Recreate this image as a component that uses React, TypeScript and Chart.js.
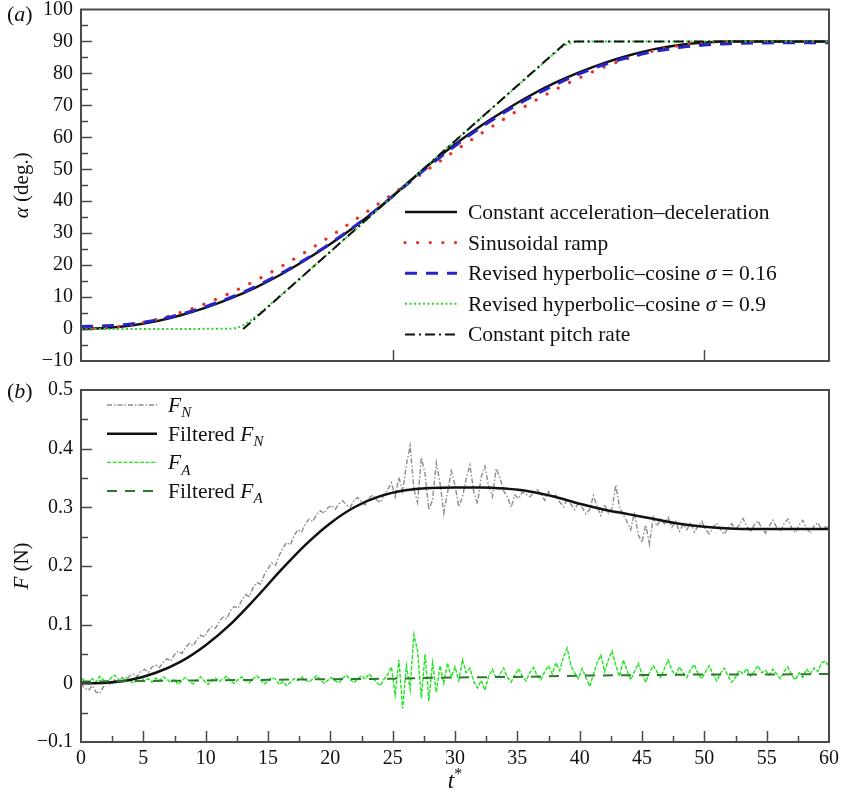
import React, { useEffect, useRef } from "react";
import { Chart, registerables } from "chart.js";

Chart.register(...registerables);

const SERIF = '"Liberation Serif", "Times New Roman", Times, serif';
const INK = "#111111";
const FRAME = "#4a4a4a";

// ---------------- data: panel (a) ----------------
const tEven = [0, 2, 4, 6, 8, 10, 12, 14, 16, 18, 20, 22, 24, 26, 28, 30, 32, 34, 36, 38, 40, 42, 44, 46, 48, 50, 52, 54, 56, 58, 60];
const constAccelDecel = [0, 0.3, 1.1, 2.4, 4.3, 6.7, 9.6, 13.0, 17.0, 21.6, 26.6, 32.2, 38.3, 45.0, 51.7, 57.8, 63.4, 68.4, 73.0, 77.0, 80.4, 83.3, 85.7, 87.6, 88.9, 89.7, 90, 90, 90, 90, 90];
const sinusoidalRamp = [0, 0.33, 1.31, 2.92, 5.15, 7.97, 11.32, 15.16, 19.44, 24.09, 29.04, 34.23, 39.58, 45.0, 50.42, 55.77, 60.96, 65.91, 70.56, 74.84, 78.68, 82.03, 84.85, 87.08, 88.69, 89.67, 90, 90, 90, 90, 90];
const hypCos016 = [0.8, 1.0, 1.6, 2.8, 4.6, 7.0, 9.9, 13.3, 17.3, 21.8, 26.8, 32.3, 38.3, 44.8, 51.3, 57.3, 62.9, 67.9, 72.4, 76.4, 79.9, 82.8, 85.1, 86.9, 88.1, 88.9, 89.3, 89.5, 89.6, 89.6, 89.6];
const hypCos09T = [0, 12, 12.5, 13, 13.5, 14, 20, 26, 32, 38, 38.5, 39, 39.5, 40, 60];
const hypCos09 = [0, 0.1, 0.4, 1.2, 2.4, 3.9, 24.2, 45.0, 65.8, 86.3, 88.0, 89.1, 89.7, 90, 90];
const pitchRateT = [13, 39, 60];
const pitchRate = [0, 90, 90];

const alphaLegend = [
  "Constant acceleration–deceleration",
  "Sinusoidal ramp",
  "Revised hyperbolic–cosine *σ* = 0.16",
  "Revised hyperbolic–cosine *σ* = 0.9",
  "Constant pitch rate",
];

// ---------------- data: panel (b) ----------------
const rawStep = 0.3; // sampling interval of the raw force records (t* units)
const fNRaw = [
  0.000, -0.008, -0.012, -0.004, -0.015, -0.017, -0.006, 0.004, -0.003, 0.006,
  0.001, 0.010, 0.004, 0.013, 0.016, 0.011, 0.020, 0.024, 0.019, 0.028,
  0.031, 0.027, 0.036, 0.042, 0.038, 0.049, 0.055, 0.051, 0.062, 0.068,
  0.064, 0.075, 0.082, 0.079, 0.090, 0.097, 0.094, 0.106, 0.113, 0.110,
  0.124, 0.131, 0.128, 0.142, 0.151, 0.148, 0.163, 0.172, 0.169, 0.185,
  0.196, 0.205, 0.201, 0.218, 0.231, 0.240, 0.236, 0.252, 0.262, 0.258,
  0.272, 0.280, 0.276, 0.288, 0.294, 0.290, 0.299, 0.303, 0.297, 0.306,
  0.311, 0.304, 0.300, 0.312, 0.317, 0.309, 0.304, 0.315, 0.321, 0.313,
  0.308, 0.322, 0.330, 0.342, 0.318, 0.351, 0.327, 0.372, 0.405, 0.331,
  0.308, 0.385, 0.357, 0.296, 0.312, 0.376, 0.341, 0.290, 0.325, 0.362,
  0.338, 0.301, 0.318, 0.349, 0.372, 0.327, 0.306, 0.352, 0.370, 0.336,
  0.318, 0.366, 0.351, 0.328, 0.318, 0.300, 0.321, 0.315, 0.326, 0.322,
  0.318, 0.324, 0.330, 0.322, 0.312, 0.327, 0.316, 0.321, 0.309, 0.301,
  0.314, 0.305, 0.296, 0.308, 0.300, 0.289, 0.296, 0.320, 0.302, 0.286,
  0.305, 0.290, 0.298, 0.338, 0.300, 0.287, 0.275, 0.262, 0.292, 0.253,
  0.240, 0.270, 0.237, 0.283, 0.268, 0.280, 0.272, 0.283, 0.266, 0.276,
  0.259, 0.271, 0.262, 0.274, 0.258, 0.268, 0.276, 0.262, 0.255, 0.266,
  0.273, 0.262, 0.254, 0.265, 0.272, 0.262, 0.270, 0.281, 0.268, 0.258,
  0.270, 0.277, 0.265, 0.256, 0.268, 0.278, 0.266, 0.259, 0.272, 0.280,
  0.265, 0.257, 0.270, 0.278, 0.264, 0.256, 0.268, 0.274, 0.262, 0.267,
  0.265,
];
const fARaw = [
  0.010, 0.004, -0.003, 0.008, 0.002, 0.012, 0.006, 0.001, 0.009, 0.014,
  0.007, 0.003, 0.010, 0.005, 0.000, 0.006, 0.011, 0.004, 0.008, 0.002,
  0.009, 0.005, 0.011, 0.007, 0.001, 0.006, -0.002, 0.005, 0.010, 0.003,
  -0.001, 0.006, 0.011, 0.004, -0.002, 0.005, 0.009, 0.003, 0.008, 0.012,
  0.004, 0.000, 0.007, 0.011, 0.005, 0.001, 0.008, 0.013, 0.006, -0.001,
  0.004, 0.010, 0.007, -0.002, 0.003, -0.004, 0.002, 0.008, 0.005, 0.011,
  0.006, 0.002, 0.008, 0.013, 0.006, 0.000, 0.005, 0.010, 0.004, 0.001,
  0.009, 0.014, 0.006, 0.001, 0.008, 0.013, 0.007, 0.016, 0.009, 0.002,
  -0.004, 0.007, 0.015, 0.028, -0.020, 0.040, -0.043, 0.030, -0.010, 0.083,
  0.055, -0.025, 0.050, -0.030, 0.035, -0.015, 0.030, 0.000, 0.035, 0.010,
  0.028, 0.005, 0.040, 0.018, 0.026, 0.003, -0.008, 0.005, -0.012, 0.012,
  0.024, 0.008, 0.015, 0.026, 0.010, 0.002, 0.014, 0.025, 0.012, 0.004,
  0.018, 0.027, 0.013, 0.006, 0.020, 0.030, 0.016, 0.035, 0.022, 0.045,
  0.060, 0.030, 0.018, 0.008, 0.025, 0.010, -0.005, 0.015, 0.035, 0.048,
  0.020, 0.040, 0.055, 0.030, 0.012, 0.040, 0.022, 0.006, 0.020, 0.034,
  0.015, 0.002, 0.018, 0.030, 0.020, 0.010, 0.025, 0.040, 0.022, 0.014,
  0.028, 0.018, 0.010, 0.024, 0.032, 0.016, 0.008, 0.020, 0.030, 0.015,
  0.004, 0.017, 0.026, 0.012, 0.002, 0.010, 0.022, 0.016, 0.025, 0.012,
  0.020, 0.030, 0.018, 0.022, 0.014, 0.024, 0.016, 0.008, 0.020, 0.028,
  0.014, 0.006, 0.018, 0.010, 0.024, 0.016, 0.026, 0.020, 0.035, 0.038,
  0.028,
];
const fNFiltered = [0.000, 0.001, 0.006, 0.018, 0.037, 0.065, 0.101, 0.145, 0.192, 0.236, 0.273, 0.301, 0.319, 0.329, 0.333, 0.334, 0.334, 0.332, 0.327, 0.318, 0.306, 0.296, 0.288, 0.280, 0.272, 0.267, 0.264, 0.263, 0.263, 0.263, 0.263];
const tFive = [0, 5, 10, 15, 20, 25, 30, 35, 40, 45, 50, 55, 60];
const fAFiltered = [0.003, 0.004, 0.005, 0.006, 0.007, 0.008, 0.010, 0.011, 0.013, 0.014, 0.015, 0.015, 0.016];

const forceLegend = ["*F*_N_", "Filtered *F*_N_", "*F*_A_", "Filtered *F*_A_"];

// ---------------- tick positions ----------------
const alphaMajor = [0, 10, 20, 30, 40, 50, 60, 70, 80, 90];
const alphaMinor = [-5, 5, 15, 25, 35, 45, 55, 65, 75, 85, 95];
const topXMajor = [25, 50];
const forceMajor = [0, 0.1, 0.2, 0.3, 0.4];
const forceMinor = [-0.05, 0.05, 0.15, 0.25, 0.35, 0.45];
const tMajor = [5, 10, 15, 20, 25, 30, 35, 40, 45, 50, 55];
const tMinor = [2.5, 7.5, 12.5, 17.5, 22.5, 27.5, 32.5, 37.5, 42.5, 47.5, 52.5, 57.5];

// ---------------- rich text helpers ----------------
type Seg = { text: string; style: "n" | "i" | "sub" | "sup" };
function parseRich(s: string): Seg[] {
  const out: Seg[] = [];
  const re = /(\^[^^]+\^|\*[^*]+\*|_[^_]+_)/g;
  let last = 0;
  let m: RegExpExecArray | null;
  while ((m = re.exec(s))) {
    if (m.index > last) out.push({ text: s.slice(last, m.index), style: "n" });
    const tok = m[0];
    const inner = tok.slice(1, -1);
    out.push({ text: inner, style: tok[0] === "^" ? "sup" : tok[0] === "*" ? "i" : "sub" });
    last = m.index + tok.length;
  }
  if (last < s.length) out.push({ text: s.slice(last), style: "n" });
  return out;
}
function segFont(st: string, size: number) {
  const small = Math.round(size * 0.7);
  if (st === "i") return `italic ${size}px ${SERIF}`;
  if (st === "sub") return `italic ${small}px ${SERIF}`;
  if (st === "sup") return `${small}px ${SERIF}`;
  return `${size}px ${SERIF}`;
}
function drawRich(ctx: CanvasRenderingContext2D, s: string, x: number, y: number, size: number, align: "left" | "center") {
  const segs = parseRich(s);
  let w = 0;
  const ws: number[] = [];
  for (const sg of segs) {
    ctx.font = segFont(sg.style, size);
    const mw = ctx.measureText(sg.text).width;
    ws.push(mw);
    w += mw;
  }
  let cx = align === "center" ? x - w / 2 : x;
  ctx.textBaseline = "alphabetic";
  ctx.textAlign = "left";
  segs.forEach((sg, i) => {
    ctx.font = segFont(sg.style, size);
    const dy = sg.style === "sub" ? size * 0.25 : sg.style === "sup" ? -size * 0.4 : 0;
    ctx.fillText(sg.text, cx, y + dy);
    cx += ws[i];
  });
}

type Decor = {
  id: string;
  panelLabel: string;
  panelBaseline: number;
  yTitle: string;
  xTitle?: string;
  xTitleBaseline?: number;
  xMajor: number[];
  xMinor: number[];
  yMajor: number[];
  yMinor: number[];
  legendLabels: string[];
  legend: { lineX0: number; lineX1: number; textX: number; y0: number; dy: number };
};

function decorPlugin(cfg: Decor) {
  return {
    id: "decor_" + cfg.id,
    afterDraw(chart: any) {
      const ctx: CanvasRenderingContext2D = chart.ctx;
      const a = chart.chartArea;
      const xs = chart.scales.x;
      const ys = chart.scales.y;
      ctx.save();
      // inward ticks
      ctx.strokeStyle = FRAME;
      ctx.lineWidth = 1.5;
      ctx.setLineDash([]);
      const hTick = (v: number, len: number) => {
        const py = Math.round(ys.getPixelForValue(v)) + 0.5;
        ctx.beginPath();
        ctx.moveTo(a.left, py);
        ctx.lineTo(a.left + len, py);
        ctx.stroke();
      };
      const vTick = (v: number, len: number) => {
        const px = Math.round(xs.getPixelForValue(v)) + 0.5;
        ctx.beginPath();
        ctx.moveTo(px, a.bottom);
        ctx.lineTo(px, a.bottom - len);
        ctx.stroke();
      };
      cfg.yMajor.forEach((v) => hTick(v, 11));
      cfg.yMinor.forEach((v) => hTick(v, 7));
      cfg.xMajor.forEach((v) => vTick(v, 11));
      cfg.xMinor.forEach((v) => vTick(v, 6));
      // frame
      ctx.lineWidth = 2;
      ctx.strokeRect(a.left, a.top, a.right - a.left, a.bottom - a.top);

      ctx.fillStyle = INK;
      // panel label
      drawRich(ctx, cfg.panelLabel, 7, cfg.panelBaseline, 22, "left");
      // y title
      ctx.save();
      ctx.translate(23, (a.top + a.bottom) / 2);
      ctx.rotate(-Math.PI / 2);
      drawRich(ctx, cfg.yTitle, 0, 5, 21, "center");
      ctx.restore();
      // x title
      if (cfg.xTitle) drawRich(ctx, cfg.xTitle, (a.left + a.right) / 2, cfg.xTitleBaseline || 0, 23, "center");

      // legend
      const L = cfg.legend;
      chart.data.datasets.forEach((ds: any, i: number) => {
        const y = L.y0 + i * L.dy;
        ctx.save();
        ctx.strokeStyle = ds.borderColor;
        ctx.lineWidth = ds.borderWidth;
        ctx.lineCap = ds.borderCapStyle || "butt";
        ctx.setLineDash(ds.borderDash || []);
        ctx.beginPath();
        ctx.moveTo(L.lineX0, y);
        ctx.lineTo(L.lineX1, y);
        ctx.stroke();
        ctx.restore();
        ctx.fillStyle = INK;
        drawRich(ctx, cfg.legendLabels[i], L.textX, y + 7, 21.5, "left");
      });
      ctx.restore();
    },
  };
}

const tickFmt = (v: any) => {
  const n = Math.round(Number(v) * 100) / 100;
  const s = String(Math.abs(n));
  return n < 0 ? "\u2212" + s : s;
};

export default function App() {
  const topRef = useRef<HTMLCanvasElement | null>(null);
  const botRef = useRef<HTMLCanvasElement | null>(null);

  useEffect(() => {
    const pts = (xsArr: number[], ysArr: number[]) => xsArr.map((x, i) => ({ x, y: ysArr[i] }));
    const rawPts = (arr: number[]) => arr.map((y, i) => ({ x: Math.round(i * rawStep * 100) / 100, y }));

    const top = new Chart(topRef.current as HTMLCanvasElement, {
      type: "line",
      data: {
        datasets: [
          { label: alphaLegend[0], data: pts(tEven, constAccelDecel), borderColor: "#111111", borderWidth: 2.5, pointRadius: 0, cubicInterpolationMode: "monotone", order: 5 },
          { label: alphaLegend[1], data: pts(tEven, sinusoidalRamp), borderColor: "#e5322b", borderWidth: 3.2, borderDash: [0.1, 12.5], borderCapStyle: "round", pointRadius: 0, cubicInterpolationMode: "monotone", order: 4 },
          { label: alphaLegend[2], data: pts(tEven, hypCos016), borderColor: "#2424c8", borderWidth: 3, borderDash: [12, 9], pointRadius: 0, cubicInterpolationMode: "monotone", order: 3 },
          { label: alphaLegend[3], data: pts(hypCos09T, hypCos09), borderColor: "#2fd62f", borderWidth: 2, borderDash: [2, 2.5], pointRadius: 0, cubicInterpolationMode: "monotone", order: 2 },
          { label: alphaLegend[4], data: pts(pitchRateT, pitchRate), borderColor: "#111111", borderWidth: 2, borderDash: [10, 4, 2, 4], pointRadius: 0, tension: 0, order: 1 },
        ] as any,
      },
      options: {
        responsive: false,
        animation: false,
        events: [],
        layout: { padding: { left: 0, right: 12, top: 9.5, bottom: 0 } },
        plugins: { legend: { display: false }, tooltip: { enabled: false } },
        scales: {
          x: {
            type: "linear", min: 0, max: 60,
            ticks: { display: false },
            grid: { display: false, drawTicks: false },
            border: { display: false },
            afterFit: (s: any) => { s.height = 14; s.paddingLeft = 0; s.paddingRight = 0; },
          },
          y: {
            type: "linear", min: -10, max: 100,
            ticks: { stepSize: 10, color: INK, padding: 8, font: { family: SERIF, size: 20 }, callback: tickFmt },
            grid: { display: false, drawTicks: false },
            border: { display: false },
            afterFit: (s: any) => { s.width = 81; s.paddingTop = 0; s.paddingBottom = 0; },
          },
        },
      } as any,
      plugins: [decorPlugin({
        id: "a",
        panelLabel: "(*a*)",
        panelBaseline: 21,
        yTitle: "*α* (deg.)",
        xMajor: topXMajor, xMinor: [],
        yMajor: alphaMajor, yMinor: alphaMinor,
        legendLabels: alphaLegend,
        legend: { lineX0: 405, lineX1: 457, textX: 468, y0: 212, dy: 30.6 },
      })],
    });

    const bot = new Chart(botRef.current as HTMLCanvasElement, {
      type: "line",
      data: {
        datasets: [
          { label: forceLegend[0], data: rawPts(fNRaw), borderColor: "#8c8c8c", borderWidth: 1.4, borderDash: [5, 2, 1.5, 2], pointRadius: 0, tension: 0, order: 4 },
          { label: forceLegend[1], data: pts(tEven, fNFiltered), borderColor: "#111111", borderWidth: 2.5, pointRadius: 0, cubicInterpolationMode: "monotone", order: 2 },
          { label: forceLegend[2], data: rawPts(fARaw), borderColor: "#1ee61e", borderWidth: 1.4, borderDash: [4, 1.5], pointRadius: 0, tension: 0, order: 3 },
          { label: forceLegend[3], data: pts(tFive, fAFiltered), borderColor: "#2a7a2a", borderWidth: 2, borderDash: [10, 8], pointRadius: 0, cubicInterpolationMode: "monotone", order: 1 },
        ] as any,
      },
      options: {
        responsive: false,
        animation: false,
        events: [],
        layout: { padding: { left: 0, right: 12, top: 15, bottom: 0 } },
        plugins: { legend: { display: false }, tooltip: { enabled: false } },
        scales: {
          x: {
            type: "linear", min: 0, max: 60,
            ticks: { stepSize: 5, color: INK, padding: 5, maxRotation: 0, autoSkip: false, font: { family: SERIF, size: 20 }, callback: tickFmt },
            grid: { display: false, drawTicks: false },
            border: { display: false },
            afterFit: (s: any) => { s.height = 62; s.paddingLeft = 0; s.paddingRight = 0; },
          },
          y: {
            type: "linear", min: -0.1, max: 0.5,
            ticks: { stepSize: 0.1, color: INK, padding: 8, font: { family: SERIF, size: 20 }, callback: tickFmt },
            grid: { display: false, drawTicks: false },
            border: { display: false },
            afterFit: (s: any) => { s.width = 81; s.paddingTop = 0; s.paddingBottom = 0; },
          },
        },
      } as any,
      plugins: [decorPlugin({
        id: "b",
        panelLabel: "(*b*)",
        panelBaseline: 23,
        yTitle: "*F* (N)",
        xTitle: "*t*^*^",
        xTitleBaseline: 413,
        xMajor: tMajor, xMinor: tMinor,
        yMajor: forceMajor, yMinor: forceMinor,
        legendLabels: forceLegend,
        legend: { lineX0: 107, lineX1: 157, textX: 168, y0: 30, dy: 28.7 },
      })],
    });

    return () => {
      top.destroy();
      bot.destroy();
    };
  }, []);

  return (
    <div style={{ position: "absolute", left: 0, top: 0, width: 841, height: 804, background: "#ffffff" }}>
      <canvas ref={topRef} width={841} height={375} style={{ position: "absolute", left: 0, top: 0, display: "block" }} />
      <canvas ref={botRef} width={841} height={429} style={{ position: "absolute", left: 0, top: 375, display: "block" }} />
    </div>
  );
}
